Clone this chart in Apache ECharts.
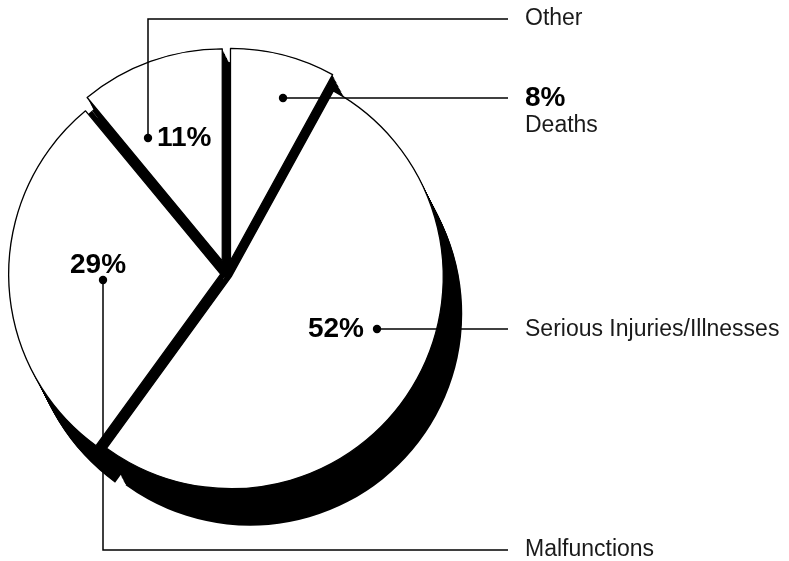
<!DOCTYPE html>
<html>
<head>
<meta charset="utf-8">
<style>
  html, body { margin: 0; padding: 0; background: #fff; }
  #chart { width: 789px; height: 561px; }
</style>
<script src="https://cdn.jsdelivr.net/npm/echarts@6/dist/echarts.min.js"></script>
</head>
<body>
<div id="chart"></div>
<script>
// Share of reports by outcome, in percent
const categories = ['Deaths', 'Serious Injuries/Illnesses', 'Malfunctions', 'Other'];
const shares = [8, 52, 29, 11];

// Pie geometry (pixels)
const CX = 227, CY = 274, R = 212;
const GAP = 10;              // width of the black channel between neighbouring slices
const MAX_PULL = 14;         // thin slices are not pulled out further than this
const DEPTH = [19, 37];      // how far the black slab extends below the slices
const STEPS = 28;            // copies used to build the slab

const total = shares.reduce((a, b) => a + b, 0);
// pull each slice outward so both straight edges move about GAP/2 away from their neighbours
const pull = shares.map(v => Math.min(MAX_PULL, (GAP / 2) / Math.sin(Math.PI * v / total)));

function sliceSeries(i, center, fill, stroke, z) {
  return {
    type: 'pie',
    z: z,
    silent: true,
    animation: false,
    stateAnimation: { duration: 0 },
    center: center,
    radius: [0, R],
    startAngle: 90,
    clockwise: true,
    selectedMode: 'single',
    selectedOffset: pull[i],
    label: { show: false },
    labelLine: { show: false },
    emphasis: { disabled: true },
    data: shares.map((v, j) => j === i
      ? { value: v, name: categories[j], selected: true,
          itemStyle: { color: fill, borderColor: stroke || fill, borderWidth: stroke ? 1.3 : 0 } }
      : { value: v, name: categories[j],
          itemStyle: { color: 'rgba(0,0,0,0)', borderWidth: 0 } })
  };
}

const series = [];
// solid black disc underneath: fills the channels between slices
series.push({
  type: 'pie', z: 1, silent: true, animation: false,
  center: [CX, CY], radius: [0, R], startAngle: 90, clockwise: true,
  label: { show: false }, labelLine: { show: false }, emphasis: { disabled: true },
  data: shares.map((v, j) => ({ value: v, name: categories[j], itemStyle: { color: '#000', borderWidth: 0 } }))
});
// extruded black slab
for (let k = 0; k <= STEPS; k++) {
  const c = [CX + DEPTH[0] * k / STEPS, CY + DEPTH[1] * k / STEPS];
  shares.forEach((_, i) => series.push(sliceSeries(i, c, '#000', null, 2)));
}
// white faces on top
shares.forEach((_, i) => series.push(sliceSeries(i, [CX, CY], '#fff', '#000', 3)));

// Call-outs: leader line from a dot inside the slice to the name on the right
const FONT = '"Liberation Sans", Arial, Helvetica, sans-serif';
const callouts = [
  { i: 0, path: [[283, 98], [508, 98]],                value: [525, 98, 'left'],   name: [525, 126] },
  { i: 1, path: [[377, 329], [508, 329]],              value: [364, 329, 'right'], name: [525, 330] },
  { i: 2, path: [[103, 280], [103, 550], [508, 550]],  value: [70, 265, 'left'],   name: [525, 550] },
  { i: 3, path: [[148, 138], [148, 19], [508, 19]],    value: [157, 138, 'left'],  name: [525, 19] }
];

const graphics = [];
callouts.forEach(c => {
  graphics.push({
    type: 'polyline', z: 10, silent: true,
    shape: { points: c.path },
    style: { stroke: '#000', lineWidth: 1.5, fill: null }
  });
  graphics.push({
    type: 'circle', z: 11, silent: true,
    shape: { cx: c.path[0][0], cy: c.path[0][1], r: 4.2 },
    style: { fill: '#000' }
  });
  graphics.push({
    type: 'text', z: 12, silent: true,
    x: c.value[0], y: c.value[1],
    style: {
      text: shares[c.i] + '%',
      font: 'bold 28px ' + FONT,
      fill: '#000',
      align: c.value[2],
      verticalAlign: 'middle'
    }
  });
  graphics.push({
    type: 'text', z: 12, silent: true,
    x: c.name[0], y: c.name[1],
    style: {
      text: categories[c.i],
      font: '23px ' + FONT,
      fill: '#1a1a1a',
      align: 'left',
      verticalAlign: 'middle'
    }
  });
});

const chart = echarts.init(document.getElementById('chart'), null, { renderer: 'canvas' });
chart.setOption({
  backgroundColor: '#fff',
  animation: false,
  series: series,
  graphic: { elements: graphics }
});
</script>
</body>
</html>
